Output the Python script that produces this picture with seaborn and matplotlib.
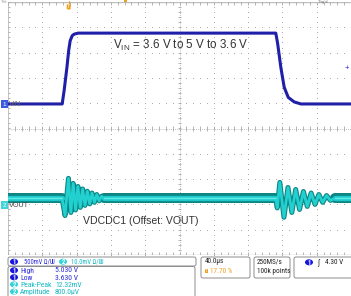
import numpy as np
import pandas as pd
import matplotlib
matplotlib.use("Agg")
import matplotlib.pyplot as plt
import seaborn as sns
from matplotlib import font_manager
from matplotlib.patches import FancyBboxPatch, Ellipse, Rectangle

# ---------------- data ----------------
# Channel 1 (VIN), time in microseconds, volts
vin_time_us = [0, 63.2, 65.5, 68.7, 70.8, 72.5, 74.9, 77.2, 81.9,
               312.3, 314.4, 318.2, 322.1, 326.8, 333.8, 341.6, 402]
vin_volts = [3.6, 3.6, 3.87, 4.32, 4.66, 4.85, 4.95, 4.98, 5.0,
             5.0, 4.80, 4.32, 3.93, 3.73, 3.64, 3.60, 3.60]

# Channel 2 (VDCDC1, offset VOUT), deviation in mV
vout_time_us = [0, 63.0, 66.5, 70.5, 73.3, 76.0, 78.8, 81.5, 84.3, 87.0, 89.8,
                92.5, 95.3, 98.0, 100.8, 103.5, 106.3, 109.0, 112.0,
                312.0, 314.0, 317.0, 321.8, 326.5, 331.0, 335.5, 340.0, 344.5,
                349.0, 353.5, 358.0, 362.5, 367.0, 371.5, 376.0, 381.0, 402]
vout_mv = [2.8, 2.8, -4.0, 10.7, -2.8, 8.7, -1.8, 7.5, -0.8, 6.5, 0.0,
           5.6, 0.6, 4.9, 1.2, 4.3, 1.8, 3.6, 2.8,
           2.8, -1.0, 9.1, -4.7, 7.1, -2.8, 6.3, -1.6, 5.5,
           -0.4, 4.9, 0.4, 4.3, 1.2, 3.9, 2.0, 2.8, 2.8]
# windows (µs) where VOUT rings after each input step
ringing_windows_us = [(63.0, 112.0), (312.0, 381.0)]

ch1_readout = "500mV Ω/Ѡ"
ch2_readout = "10.0mV Ω/Ѡ"
meas_labels = ["High", "Low", "Peak-Peak", "Amplitude"]
meas_values = ["5.030 V", "3.630 V", "12.32mV", "800.0µV"]
meas_channels = [1, 1, 2, 2]
timebase = "40.0µs"
trig_pos = "17.70 %"
sample_rate = "250MS/s"
record_len = "100k points"
trig_level_v = 4.30
trig_level_text = "4.30 V"

# ---------------- scope settings ----------------
CH1_SCALE_V = 0.5      # V/div
CH1_OFFSET_V = 3.6
CH1_POS_DIV = 0.97
CH2_SCALE_MV = 10.0    # mV/div
CH2_POS_DIV = -3.04
TIME_PER_DIV = 40.0

BLUE_TRACE = "#1f1fa8"
BLUE_TXT = "#2b2bd6"
BLUE_DOT = "#1515e0"
CYAN_TXT = "#14b8c4"
CYAN_DOT = "#2fd4d8"
ORANGE = "#f0a020"
GRID = "#a8a8a8"

sns.set_theme(style="white")
plt.rcParams["font.family"] = ["Liberation Sans", "DejaVu Sans"]
plt.rcParams["mathtext.fontset"] = "custom"
plt.rcParams["mathtext.rm"] = "Liberation Sans"
plt.rcParams["mathtext.it"] = "Liberation Sans"

installed = {f.name for f in font_manager.fontManager.ttflist}
narrow = None
for cand in ["Liberation Sans Narrow", "DejaVu Sans Condensed", "Roboto Condensed"]:
    if cand in installed:
        narrow = cand
        break
PANEL_FAMILY = [narrow, "DejaVu Sans"] if narrow else ["Liberation Sans", "DejaVu Sans"]
FS = 5.2 if narrow else 4.4

W, H = 351, 296
fig = plt.figure(figsize=(W / 100, H / 100), dpi=100)
fig.patch.set_facecolor("white")

ax = fig.add_axes([8 / W, (H - 255) / H, 343 / W, 253 / H])

# graticule dots
for i in range(1, 10):
    if i == 5:
        continue
    ys = np.arange(-5, 5.001, 0.2)
    ax.scatter(np.full_like(ys, i * TIME_PER_DIV), ys, s=0.5, color=GRID, lw=0, zorder=1)
for j in range(-4, 5):
    if j == 0:
        continue
    xs = np.arange(0, 400.1, TIME_PER_DIV / 5)
    ax.scatter(xs, np.full_like(xs, j), s=0.5, color=GRID, lw=0, zorder=1)

# center lines with minor ticks
ax.axvline(200, color=GRID, lw=0.6, ls=(0, (1, 1.5)), zorder=1)
ax.axhline(0, color=GRID, lw=0.6, ls=(0, (1, 1.5)), zorder=1)
tk_y = np.arange(-5, 5.001, 0.2)
ax.hlines(tk_y, 200 - 2.2, 200 + 2.2, color=GRID, lw=0.6, zorder=1)
tk_x = np.arange(0, 400.1, TIME_PER_DIV / 5)
ax.vlines(tk_x, -0.08, 0.08, color=GRID, lw=0.6, zorder=1)
# borders
ax.axvline(0, color="#bdbdbd", lw=1.3, zorder=1)
ax.axhline(5, color="#bdbdbd", lw=1.0, zorder=1)
ax.axhline(-5, color="#bdbdbd", lw=1.0, zorder=1)
ax.hlines(tk_y, 0, 2.2, color=GRID, lw=0.6, zorder=1)
ax.vlines(tk_x, 5 - 0.12, 5, color=GRID, lw=0.6, zorder=1)
ax.vlines(tk_x, -5, -5 + 0.12, color=GRID, lw=0.6, zorder=1)

# traces
df1 = pd.DataFrame({"t": vin_time_us, "v": vin_volts})
df1["div"] = (df1["v"] - CH1_OFFSET_V) / CH1_SCALE_V + CH1_POS_DIV
df2 = pd.DataFrame({"t": vout_time_us, "mv": vout_mv})
df2["div"] = df2["mv"] / CH2_SCALE_MV + CH2_POS_DIV

# steady-state (switching ripple) band: segments outside the ringing windows
seg = np.zeros(len(df2), dtype=int)
keep = np.ones(len(df2), dtype=bool)
for k, (a, b) in enumerate(ringing_windows_us):
    inside = (df2["t"] > a) & (df2["t"] < b)
    keep &= ~inside.to_numpy()
    seg[(df2["t"] >= b).to_numpy()] = k + 1
df2["seg"] = seg
steady = df2[keep]

sns.lineplot(data=steady, x="t", y="div", units="seg", ax=ax, color="#0d8585", lw=7.2,
             estimator=None, zorder=3)
sns.lineplot(data=steady, x="t", y="div", units="seg", ax=ax, color="#1fc8c8", lw=3.8,
             estimator=None, zorder=4)
sns.lineplot(data=df2, x="t", y="div", ax=ax, color="#0d8585", lw=3.6,
             estimator=None, zorder=3, solid_joinstyle="round")
sns.lineplot(data=df2, x="t", y="div", ax=ax, color="#22d0d0", lw=2.0,
             estimator=None, zorder=5, solid_joinstyle="round")
sns.lineplot(data=steady, x="t", y="div", units="seg", ax=ax, color="#5eeaea", lw=1.0,
             estimator=None, zorder=5)
sns.lineplot(data=df1, x="t", y="div", ax=ax, color=BLUE_TRACE, lw=2.2,
             estimator=None, zorder=6)
ax.set_xlim(0, 400)
ax.set_ylim(-5, 5)
ax.axis("off")

ax.text(201, 3.28, r"V$_{\mathregular{IN}}$ = 3.6 V to 5 V to 3.6 V", fontsize=8.4,
        color="#333333", ha="center", va="center", zorder=7)
ax.text(154.5, -3.64, "VDCDC1 (Offset: VOUT)", fontsize=7.6,
        color="#333333", ha="center", va="center", zorder=7)

# ---------------- overlay in pixel coords ----------------
ov = fig.add_axes([0, 0, 1, 1], facecolor="none")
ov.set_xlim(0, W)
ov.set_ylim(H, 0)
ov.axis("off")


def ptext(x, y, s, color, fs=None, ha="left", **kw):
    ov.text(x, y, s, fontsize=fs or FS, color=color, ha=ha, va="center",
            family=PANEL_FAMILY, zorder=7, **kw)


def box(x0, y0, x1, y1):
    ov.add_patch(FancyBboxPatch((x0, y0), x1 - x0, y1 - y0,
                                boxstyle="round,pad=0,rounding_size=2",
                                fc="white", ec="#8c8c8c", lw=0.7, zorder=5))


def dot(x, y, n, color):
    ov.add_patch(Ellipse((x, y), 8, 6, fc=color, ec="none", zorder=6))
    ptext(x, y + 0.3, str(n), "white", fs=FS - 0.5, ha="center", fontweight="bold")


# channel markers on left
ov.add_patch(Rectangle((1, 100), 6.5, 8, fc="#3a5ae0", ec="none", zorder=6))
ov.text(4.2, 104.3, "1", fontsize=4.5, color="white", ha="center", va="center", zorder=7)
ov.text(9, 104.3, "VIN", fontsize=5.2, color="#666666", ha="left", va="center", zorder=7)
ov.add_patch(Rectangle((1, 201), 6.5, 8, fc="#40d4d8", ec="none", zorder=6))
ov.text(4.2, 205.3, "2", fontsize=4.5, color="white", ha="center", va="center", zorder=7)
ov.text(9, 205.3, "VOUT", fontsize=5.2, color="#444444", ha="left", va="center", zorder=7)

# trigger marker top
trig_x = 8 + float(trig_pos.split()[0]) / 100 * 343
ov.add_patch(FancyBboxPatch((trig_x - 2, 4), 4, 5.5, boxstyle="round,pad=0,rounding_size=1.2",
                            fc=ORANGE, ec="none", zorder=6))
ov.plot([trig_x, trig_x], [1, 4], color=ORANGE, lw=0.8, zorder=6)
ov.text(trig_x, 6.8, "T", fontsize=3.5, color="white", ha="center", va="center", zorder=7)
ov.add_patch(Rectangle((124, 0), 3, 2, fc=ORANGE, ec="none", zorder=6))
ov.text(318, 0.3, "Trig'd", fontsize=3.2, color="#777777", ha="left", va="top", zorder=7)
ov.text(0.5, 0.3, "Tek", fontsize=3.2, color="#999999", ha="left", va="top", zorder=7)

# trigger level marker (right)
tl_div = (trig_level_v - CH1_OFFSET_V) / CH1_SCALE_V + CH1_POS_DIV
tl_y = 128.5 - tl_div * 25.3
ov.text(347, tl_y, "+", fontsize=5.5, color=BLUE_DOT, ha="center", va="center", zorder=7)

# bottom readout boxes
box(8, 257, 196, 266)
box(8, 266.5, 195, 305)
box(201, 257, 250, 278)
box(254, 257, 290, 278)
box(294, 257, 360, 278)

dot(14, 261.7, 1, BLUE_DOT)
ptext(23.5, 261.9, ch1_readout, BLUE_TXT, fs=FS - 0.5)
dot(63, 261.7, 2, CYAN_DOT)
ptext(71, 261.9, ch2_readout, CYAN_TXT, fs=FS - 0.5)

row_y = [270.3, 277.3, 284.4, 291.6]
for y, lab, val, ch in zip(row_y, meas_labels, meas_values, meas_channels):
    dcol = BLUE_DOT if ch == 1 else CYAN_DOT
    tcol = BLUE_TXT if ch == 1 else CYAN_TXT
    dot(14, y, ch, dcol)
    ptext(20, y + 0.2, lab, tcol, fs=FS + 0.3)
    ptext(55, y + 0.2, val, tcol, fs=FS + 0.3)

ptext(205, 261.9, timebase, "#222222")
ov.add_patch(Rectangle((204.5, 269), 3.6, 4.4, fc=ORANGE, ec="none", zorder=6))
ptext(206.3, 271.3, "T", "white", fs=3.2, ha="center")
ptext(210, 271.3, trig_pos, ORANGE)
ptext(257, 261.9, sample_rate, "#222222")
ptext(257, 271.3, record_len, "#222222")
dot(309, 262.3, 1, BLUE_DOT)
ptext(318, 262.3, "∫", "#222222", fs=FS + 0.5, ha="center")
ptext(325, 262.5, trig_level_text, "#222222")

fig.savefig("out.png", dpi=100, facecolor="white")
